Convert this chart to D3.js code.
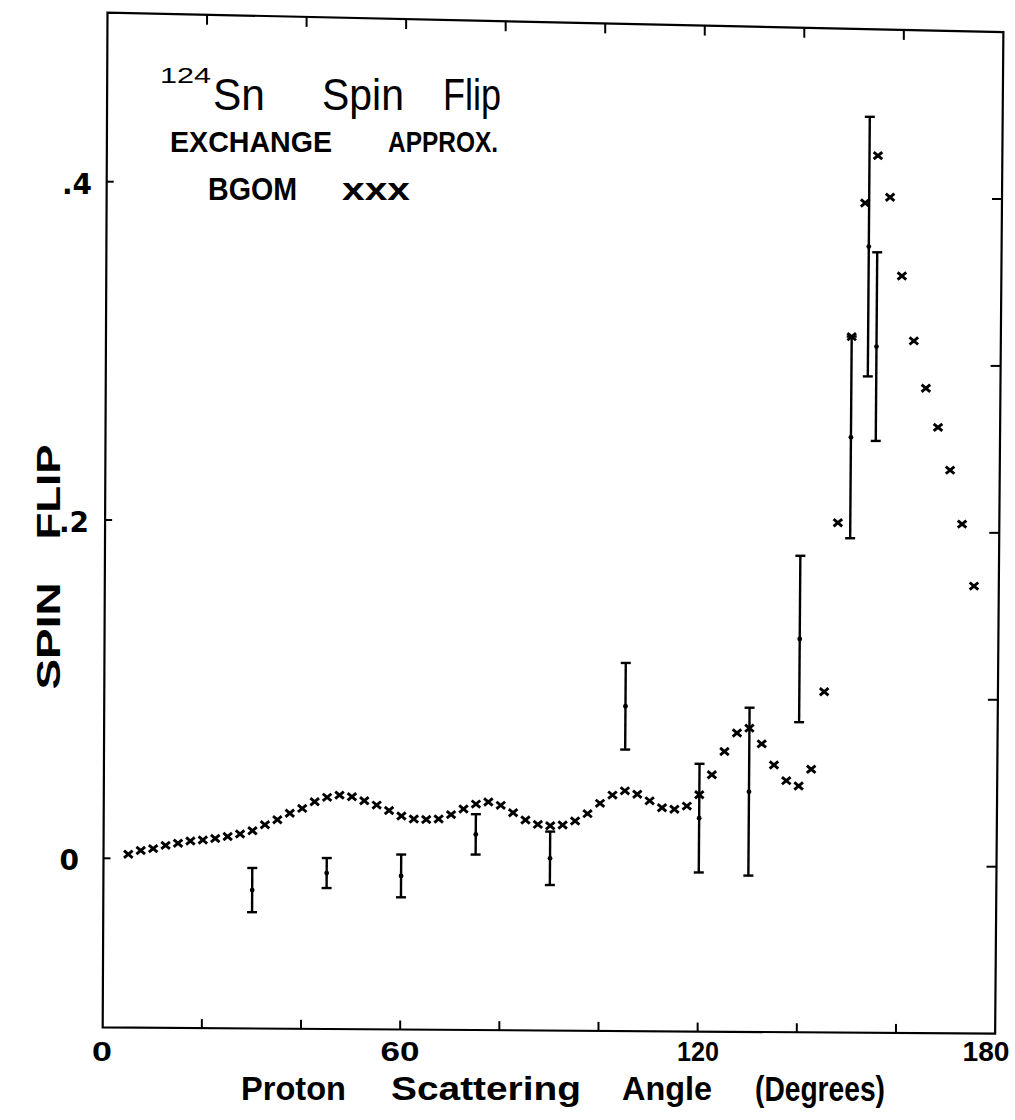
<!DOCTYPE html>
<html>
<head>
<meta charset="utf-8">
<script src="https://cdn.jsdelivr.net/npm/d3@7"></script>
<style>
  html, body { margin: 0; padding: 0; background: #fff; }
  svg { display: block; }
</style>
</head>
<body>
<div id="chart"></div>
<script>
// ---- data ----
const calcTheta = [5, 7.5, 10, 12.5, 15, 17.5, 20, 22.5, 25, 27.5, 30, 32.5, 35, 37.5, 40, 42.5, 45, 47.5, 50, 52.5,
  55, 57.5, 60, 62.5, 65, 67.5, 70, 72.5, 75, 77.5, 80, 82.5, 85, 87.5, 90, 92.5, 95, 97.5, 100, 102.5,
  105, 107.5, 110, 112.5, 115, 117.5, 120, 122.5, 125, 127.5, 130, 132.5, 135, 137.5, 140, 142.5, 145, 147.5, 150, 152.5,
  155, 157.5, 160, 162.5, 165, 167.5, 170, 172.5, 175];
const calcFlip = [0.0025, 0.0048, 0.0060, 0.0080, 0.0093, 0.0107, 0.0114, 0.0123, 0.0136, 0.0152, 0.0172, 0.0208, 0.0238, 0.0277, 0.0307, 0.0347, 0.0374, 0.0388, 0.0379, 0.0356,
  0.0331, 0.0300, 0.0268, 0.0251, 0.0249, 0.0252, 0.0279, 0.0313, 0.0343, 0.0356, 0.0337, 0.0294, 0.0251, 0.0226, 0.0219, 0.0224, 0.0248, 0.0293, 0.0355, 0.0405,
  0.0431, 0.0412, 0.0373, 0.0333, 0.0324, 0.0344, 0.0412, 0.0532, 0.0672, 0.0783, 0.0813, 0.0720, 0.0595, 0.0502, 0.0471, 0.0572, 0.1036, 0.2047, 0.3160, 0.3960,
  0.4245, 0.3998, 0.3528, 0.3141, 0.2859, 0.2626, 0.2371, 0.2049, 0.1679];

const expTheta = [30, 45, 60, 75, 90, 105, 120, 130, 140, 150, 153.3, 155];
const expFlip  = [-0.0180, -0.0075, -0.0088, 0.0163, 0.0025, 0.0935, 0.0273, 0.0434, 0.1349, 0.2558, 0.3700, 0.3103];
const expErr   = [0.0131, 0.0089, 0.0127, 0.0120, 0.0159, 0.0258, 0.0324, 0.0501, 0.0497, 0.0603, 0.0776, 0.0564];

const xTicks = [20, 40, 60, 80, 100, 120, 140, 160];
const xTickLabels = [0, 60, 120, 180];
const yTicksLeft = [0, 0.2, 0.4];
const yTicksRight = [0, 0.1, 0.2, 0.3, 0.4];
const xDomain = [0, 180];
const yDomain = [-0.1, 0.5];

// ---- layout ----
const W = 1015, H = 1120;
const svg = d3.select("#chart").append("svg")
  .attr("width", W).attr("height", H).attr("viewBox", `0 0 ${W} ${H}`);
svg.append("rect").attr("width", W).attr("height", H).attr("fill", "#fff");

// The original is a slightly warped scan: the plot box is a skewed
// quadrilateral. Position scales are given along its edges and blended.
const xAtV0 = d3.scaleLinear().domain(xDomain).range([103.5, 996.5]);   // along value 0
const xAtV4 = d3.scaleLinear().domain(xDomain).range([106.7, 1002]);    // along value 0.4
const yLeft  = d3.scaleLinear().domain([0, 0.4]).range([858.3, 181.7]); // left edge
const yRight = d3.scaleLinear().domain([0, 0.4]).range([866.7, 199]);   // right edge
const vFrac = d3.scaleLinear().domain([0, 0.4]).range([0, 1]);
const uFrac = d3.scaleLinear().domain(xDomain).range([0, 1]);
const px = (u, v) => d3.interpolateNumber(xAtV0(u), xAtV4(u))(vFrac(v));
const py = (u, v) => d3.interpolateNumber(yLeft(v), yRight(v))(uFrac(u));

const ink = "#000";
const g = svg.append("g");

// frame
const corners = [[xDomain[0], yDomain[0]], [xDomain[1], yDomain[0]], [xDomain[1], yDomain[1]], [xDomain[0], yDomain[1]]];
g.append("path")
  .attr("d", d3.line().x(d => px(d[0], d[1])).y(d => py(d[0], d[1])).curve(d3.curveLinearClosed)(corners))
  .attr("fill", "none").attr("stroke", ink).attr("stroke-width", 2.2).attr("stroke-linejoin", "miter");

// ticks (inward)
const tk = g.append("g").attr("stroke", ink).attr("stroke-width", 2);
xTicks.forEach(u => {
  const bx = px(u, yDomain[0]), by = py(u, yDomain[0]);
  tk.append("line").attr("x1", bx).attr("x2", bx).attr("y1", by).attr("y2", by - 9);
  const tx = px(u, yDomain[1]), ty = py(u, yDomain[1]);
  tk.append("line").attr("x1", tx).attr("x2", tx).attr("y1", ty).attr("y2", ty + 10);
});
yTicksRight.forEach(v => {
  const rx = px(xDomain[1], v), ry = py(xDomain[1], v);
  tk.append("line").attr("x1", rx).attr("x2", rx - 10).attr("y1", ry).attr("y2", ry);
});
yTicksLeft.forEach(v => {
  const lx = px(xDomain[0], v), ly = py(xDomain[0], v);
  tk.append("line").attr("x1", lx).attr("x2", lx + 7).attr("y1", ly).attr("y2", ly);
});

// error bars (measured data)
const eb = g.append("g").attr("stroke", ink).attr("stroke-width", 2.4).attr("fill", ink);
expTheta.forEach((t, i) => {
  const v = expFlip[i], e = expErr[i];
  const xc = px(t, v), yc = py(t, v);
  const xt = px(t, v + e), yt = py(t, v + e);
  const xb = px(t, v - e), yb = py(t, v - e);
  eb.append("line").attr("x1", xb).attr("x2", xt).attr("y1", yb).attr("y2", yt);
  eb.append("line").attr("x1", xt - 5).attr("x2", xt + 5).attr("y1", yt).attr("y2", yt);
  eb.append("line").attr("x1", xb - 5).attr("x2", xb + 5).attr("y1", yb).attr("y2", yb);
  eb.append("circle").attr("cx", xc).attr("cy", yc).attr("r", 2.4).attr("stroke", "none");
});

// calculated points (BGOM)
const cross = "M-4.3,-3.6L4.3,3.6M-4.3,3.6L4.3,-3.6";
g.append("g").selectAll("path").data(calcTheta).join("path")
  .attr("d", cross)
  .attr("transform", (t, i) => `translate(${px(t, calcFlip[i])},${py(t, calcFlip[i])})`)
  .attr("stroke", ink).attr("stroke-width", 2.9).attr("fill", "none");

// ---- tick labels ----
const font = "'Liberation Sans', Arial, sans-serif";
const xLabWidth = { 0: 20, 60: 39, 120: 42, 180: 47 };
const xLabShift = { 0: 0, 60: 0, 120: 0, 180: -10 };
const xLab = d3.scaleLinear().domain(xDomain).range([102, 996]);
svg.append("g").selectAll("text").data(xTickLabels).join("text")
  .attr("x", d => xLab(d) + xLabShift[d]).attr("y", 1061)
  .attr("text-anchor", "middle")
  .text(d3.format("d"))
  .attr("fill", ink)
  .attr("textLength", d => xLabWidth[d]).attr("lengthAdjust", "spacingAndGlyphs")
  .style("font-family", font)
  .style("font-weight", "bold").style("font-size", "27px");

const yLabEnd = { 0: 79, 0.2: 89, 0.4: 92 };
const yLab = d3.scaleLinear().domain([0, 0.4]).range([859, 183]);
const lyAxis = svg.append("g")
  .call(d3.axisLeft(yLab).tickValues(yTicksLeft).tickSize(0)
    .tickFormat(d => d === 0 ? "0" : "." + Math.round(d * 10)));
lyAxis.select(".domain").remove();
lyAxis.selectAll(".tick text")
  .attr("x", d => yLabEnd[d]).attr("dy", "0.36em")
  .attr("fill", ink)
  .style("font-family", "'DejaVu Sans', 'Liberation Sans', sans-serif")
  .style("font-weight", "bold").style("font-size", "28px");

// ---- texts ----
function txt(s, xx, yy, size, weight, len, anchor) {
  const t = svg.append("text").attr("x", xx).attr("y", yy).text(s)
    .attr("fill", ink)
    .style("font-family", font).style("font-size", size + "px").style("font-weight", weight)
    .attr("text-anchor", anchor || "start");
  if (len) t.attr("textLength", len).attr("lengthAdjust", "spacingAndGlyphs");
  return t;
}
// title block
txt("124", 160, 83, 22, "normal", 51);
txt("Sn", 213, 110, 44, "normal", 52);
txt("Spin", 322, 110, 44, "normal", 82);
txt("Flip", 443, 110, 44, "normal", 58);
txt("EXCHANGE", 170, 152, 30, "bold", 162);
txt("APPROX.", 388, 152, 30, "bold", 110);
txt("BGOM", 208, 200, 31, "bold", 89);
txt("xxx", 342, 200, 32, "bold", 68);

// x axis title
txt("Proton", 241, 1100, 34, "bold", 105);
txt("Scattering", 391, 1100, 34, "bold", 190);
txt("Angle", 622, 1100, 34, "bold", 90);
txt("(Degrees)", 755, 1101, 35, "bold", 130);

// y axis title (rotated)
[["FLIP", 492, 95], ["SPIN", 636, 107]].forEach(([s, cy, len]) => {
  svg.append("text").attr("transform", `translate(60,${cy}) rotate(-90)`)
    .attr("text-anchor", "middle").text(s).attr("fill", ink)
    .attr("textLength", len).attr("lengthAdjust", "spacingAndGlyphs")
    .style("font-family", font).style("font-weight", "bold").style("font-size", "33px");
});
</script>
</body>
</html>
